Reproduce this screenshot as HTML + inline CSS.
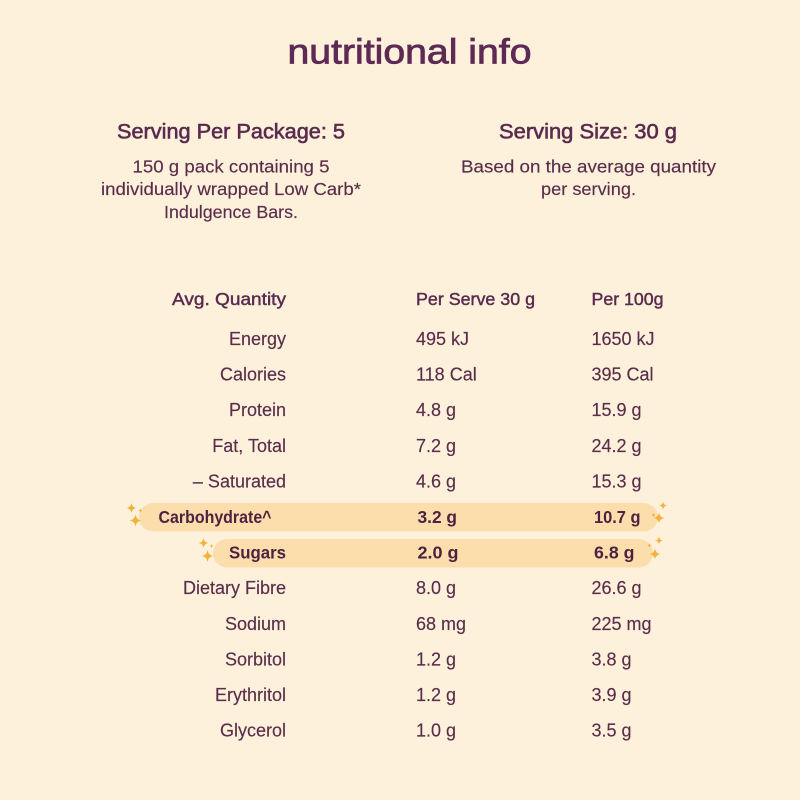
<!DOCTYPE html>
<html>
<head>
<meta charset="utf-8">
<style>
  html,body{margin:0;padding:0;background:#fdf1dc;}
  svg{display:block;}
  text{font-family:"Liberation Sans",sans-serif;}
</style>
</head>
<body>
<svg width="800" height="800" viewBox="0 0 800 800" xmlns="http://www.w3.org/2000/svg">
  <defs>
    <path id="sp" d="M0,-1 Q0.12,-0.12 1,0 Q0.12,0.12 0,1 Q-0.12,0.12 -1,0 Q-0.12,-0.12 0,-1 Z"/>
  </defs>
  <rect width="800" height="800" fill="#fdf1dc"/>

  <!-- Title -->
  <text x="409.5" y="63.5" text-anchor="middle" font-size="35" fill="#5d2a55" stroke="#5d2a55" stroke-width="0.8" textLength="244" lengthAdjust="spacingAndGlyphs">nutritional info</text>

  <!-- Headings -->
  <g fill="#5a2b4e" stroke="#5a2b4e" stroke-width="0.6" font-size="21">
    <text x="231" y="138.5" text-anchor="middle" textLength="228" lengthAdjust="spacingAndGlyphs">Serving Per Package: 5</text>
    <text x="588" y="138.5" text-anchor="middle" textLength="178" lengthAdjust="spacingAndGlyphs">Serving Size: 30 g</text>
  </g>
  <g fill="#5a2d4a" font-size="17.5" stroke="#5a2d4a" stroke-width="0.15">
    <text x="231" y="172.5" text-anchor="middle" textLength="197" lengthAdjust="spacingAndGlyphs">150 g pack containing 5</text>
    <text x="231" y="195" text-anchor="middle" textLength="260" lengthAdjust="spacingAndGlyphs">individually wrapped Low Carb*</text>
    <text x="231" y="218" text-anchor="middle" textLength="134" lengthAdjust="spacingAndGlyphs">Indulgence Bars.</text>
    <text x="588.5" y="172.5" text-anchor="middle" textLength="255" lengthAdjust="spacingAndGlyphs">Based on the average quantity</text>
    <text x="588.5" y="195" text-anchor="middle" textLength="95" lengthAdjust="spacingAndGlyphs">per serving.</text>
  </g>

  <!-- Highlight pills -->
  <rect x="139" y="503" width="519" height="28.5" rx="14.25" fill="#fbdeab"/>
  <rect x="213" y="539" width="440" height="28.5" rx="14.25" fill="#fbdeab"/>

  <!-- Sparkles -->
  <g fill="#f3b23c">
    <use href="#sp" transform="translate(131.5,508) scale(5)"/>
    <use href="#sp" transform="translate(140.5,510.5) scale(2.2)"/>
    <use href="#sp" transform="translate(135.5,520.5) scale(6)"/>
    <use href="#sp" transform="translate(663,505.5) scale(4)"/>
    <use href="#sp" transform="translate(653.5,515) scale(2.2)"/>
    <use href="#sp" transform="translate(659,518) scale(5.5)"/>
    <use href="#sp" transform="translate(203.5,543) scale(5)"/>
    <use href="#sp" transform="translate(211.5,546) scale(2.2)"/>
    <use href="#sp" transform="translate(207.5,556) scale(6)"/>
    <use href="#sp" transform="translate(659,540.5) scale(4)"/>
    <use href="#sp" transform="translate(649.5,545.5) scale(2.2)"/>
    <use href="#sp" transform="translate(655,554) scale(5.5)"/>
  </g>

  <!-- Table header -->
  <g fill="#5a2b4e" stroke="#5a2b4e" stroke-width="0.45" font-size="17.5">
    <text x="286" y="305" text-anchor="end" textLength="114" lengthAdjust="spacingAndGlyphs">Avg. Quantity</text>
    <text x="416" y="305" textLength="119" lengthAdjust="spacingAndGlyphs">Per Serve 30 g</text>
    <text x="591.5" y="305" textLength="72" lengthAdjust="spacingAndGlyphs">Per 100g</text>
  </g>

  <!-- Regular rows -->
  <g fill="#5a2d4a" font-size="18" stroke="#5a2d4a" stroke-width="0.15">
    <text x="286" y="345" text-anchor="end">Energy</text>
    <text x="416" y="345">495 kJ</text>
    <text x="591.5" y="345">1650 kJ</text>

    <text x="286" y="380.6" text-anchor="end">Calories</text>
    <text x="416" y="380.6">118 Cal</text>
    <text x="591.5" y="380.6">395 Cal</text>

    <text x="286" y="416.2" text-anchor="end">Protein</text>
    <text x="416" y="416.2">4.8 g</text>
    <text x="591.5" y="416.2">15.9 g</text>

    <text x="286" y="451.8" text-anchor="end">Fat, Total</text>
    <text x="416" y="451.8">7.2 g</text>
    <text x="591.5" y="451.8">24.2 g</text>

    <text x="286" y="487.4" text-anchor="end">– Saturated</text>
    <text x="416" y="487.4">4.6 g</text>
    <text x="591.5" y="487.4">15.3 g</text>

    <text x="286" y="594.2" text-anchor="end">Dietary Fibre</text>
    <text x="416" y="594.2">8.0 g</text>
    <text x="591.5" y="594.2">26.6 g</text>

    <text x="286" y="629.8" text-anchor="end">Sodium</text>
    <text x="416" y="629.8">68 mg</text>
    <text x="591.5" y="629.8">225 mg</text>

    <text x="286" y="665.4" text-anchor="end">Sorbitol</text>
    <text x="416" y="665.4">1.2 g</text>
    <text x="591.5" y="665.4">3.8 g</text>

    <text x="286" y="701" text-anchor="end">Erythritol</text>
    <text x="416" y="701">1.2 g</text>
    <text x="591.5" y="701">3.9 g</text>

    <text x="286" y="736.6" text-anchor="end">Glycerol</text>
    <text x="416" y="736.6">1.0 g</text>
    <text x="591.5" y="736.6">3.5 g</text>
  </g>

  <!-- Highlighted rows -->
  <g fill="#4e2142" font-weight="bold" font-size="17.5">
    <text x="158.5" y="523" textLength="113" lengthAdjust="spacingAndGlyphs">Carbohydrate^</text>
    <text x="417.5" y="523" textLength="39.5" lengthAdjust="spacingAndGlyphs">3.2 g</text>
    <text x="594" y="523" textLength="46.5" lengthAdjust="spacingAndGlyphs">10.7 g</text>

    <text x="286" y="558.6" text-anchor="end" textLength="57" lengthAdjust="spacingAndGlyphs">Sugars</text>
    <text x="417.5" y="558.6" textLength="41" lengthAdjust="spacingAndGlyphs">2.0 g</text>
    <text x="594" y="558.6" textLength="40.5" lengthAdjust="spacingAndGlyphs">6.8 g</text>
  </g>
</svg>
</body>
</html>
